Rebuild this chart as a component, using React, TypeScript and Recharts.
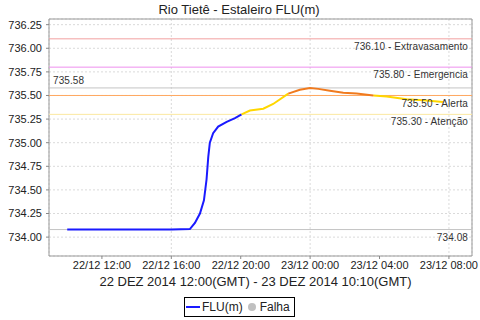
import React from 'react';
import { LineChart, Line, XAxis, YAxis, CartesianGrid, ReferenceLine, ReferenceArea } from 'recharts';

// hours counted from 22/12 00:00 (GMT)
const hours = [
  10.0, 12.0, 14.0, 16.0, 17.07, 17.36, 17.65, 17.88, 18.03, 18.13, 18.22, 18.41, 18.7, 19.19, 19.67, 20.05,
  20.53, 21.3, 21.87, 22.74, 23.41, 23.99, 24.47, 25.14, 25.91, 26.68, 27.64, 28.41, 29.56, 30.52, 31.67,
];
const levels = [
  734.08, 734.08, 734.08, 734.08, 734.085, 734.15, 734.25, 734.39, 734.61, 734.85, 735.0, 735.1, 735.17, 735.22, 735.26, 735.3,
  735.34, 735.36, 735.41, 735.52, 735.56, 735.58, 735.57, 735.55, 735.53, 735.52, 735.5, 735.49, 735.46, 735.45, 735.43,
];

const xTicks = [12, 16, 20, 24, 28, 32];
const xTickLabels = ['22/12 12:00', '22/12 16:00', '22/12 20:00', '23/12 00:00', '23/12 04:00', '23/12 08:00'];
const yTicks = [734.0, 734.25, 734.5, 734.75, 735.0, 735.25, 735.5, 735.75, 736.0, 736.25];

const refValues = [736.1, 735.8, 735.58, 735.5, 735.3, 734.08];
const refLabels = ['736.10 - Extravasamento', '735.80 - Emergencia', '735.58', '735.50 - Alerta', '735.30 - Atenção', '734.08'];
const refColors = ['#f2a0a0', '#ee90ee', '#c4c4c4', '#ffa860', '#fbe8a0', '#c4c4c4'];

const ATENCAO = 735.3;
const ALERTA = 735.5;

const xMin = 8.95;
const xMax = 33.33;
const yMin = 733.8;
const yMax = 736.31;

const segKey = (a: number, b: number) => {
  const m = (a + b) / 2;
  if (m < ATENCAO) return 'normal';
  if (m < ALERTA) return 'atencao';
  return 'alerta';
};

const rows: any[] = hours.map((t) => ({ t }));
for (let i = 0; i < hours.length - 1; i++) {
  const k = segKey(levels[i], levels[i + 1]);
  rows[i][k] = levels[i];
  rows[i + 1][k] = levels[i + 1];
}

const font = '"Liberation Sans", Arial, sans-serif';

export default function App() {
  return (
    <div style={{ position: 'absolute', left: 0, top: 0, width: 480, height: 320, background: '#fff', fontFamily: font }}>
      <div style={{ position: 'absolute', left: 0, top: 2, width: 478, textAlign: 'center', fontSize: 13, color: '#222' }}>
        Rio Tietê - Estaleiro FLU(m)
      </div>
      <LineChart width={480} height={320} data={rows} margin={{ top: 19, right: 8, left: 0, bottom: 44 }}>
        <CartesianGrid stroke="#dadada" strokeDasharray="2 2" />
        <XAxis
          dataKey="t"
          type="number"
          domain={[xMin, xMax]}
          ticks={xTicks}
          allowDataOverflow
          height={20}
          axisLine={false}
          tickLine={{ stroke: '#888' }}
          tickSize={3}
          tickMargin={2}
          tick={{ fontSize: 11, fill: '#222', fontFamily: font }}
          tickFormatter={(v: number) => xTickLabels[xTicks.indexOf(v)] ?? ''}
        />
        <YAxis
          type="number"
          domain={[yMin, yMax]}
          ticks={yTicks}
          allowDataOverflow
          width={49}
          axisLine={false}
          tickLine={{ stroke: '#888' }}
          tickSize={3}
          tickMargin={4}
          tick={{ fontSize: 11, fill: '#222', fontFamily: font }}
          tickFormatter={(v: number) => v.toFixed(2)}
        />
        {refValues.map((v, i) => (
          <ReferenceLine
            key={refLabels[i]}
            y={v}
            stroke={refColors[i]}
            strokeWidth={1}
            label={{
              value: refLabels[i],
              position: i === 2 ? 'insideBottomLeft' : 'insideTopRight',
              offset: 4,
              fill: '#333',
              fontSize: 10,
              fontFamily: font,
              letterSpacing: 0.1,
            }}
          />
        ))}
        <Line dataKey="normal" stroke="#1a1aff" strokeWidth={2} dot={false} isAnimationActive={false} />
        <Line dataKey="atencao" stroke="#ffd700" strokeWidth={2} dot={false} isAnimationActive={false} />
        <Line dataKey="alerta" stroke="#f07a1e" strokeWidth={2} dot={false} isAnimationActive={false} />
        <ReferenceArea x1={xMin} x2={xMax} y1={yMin} y2={yMax} fill="none" stroke="#999" strokeWidth={1} />
      </LineChart>
      <div
        style={{
          position: 'absolute',
          left: 99,
          top: 274,
          width: 313,
          textAlign: 'center',
          fontSize: 13,
          color: '#222',
          whiteSpace: 'nowrap',
        }}
      >
        22 DEZ 2014 12:00(GMT) - 23 DEZ 2014 10:10(GMT)
      </div>
      <div
        style={{
          position: 'absolute',
          left: 184,
          top: 297,
          width: 111,
          height: 20,
          boxSizing: 'border-box',
          border: '1px solid #000',
          display: 'flex',
          alignItems: 'center',
          fontSize: 12,
          color: '#222',
          whiteSpace: 'nowrap',
        }}
      >
        <svg width={14} height={10} style={{ marginLeft: 1, marginRight: 2 }}>
          <line x1={0} y1={5} x2={14} y2={5} stroke="#1a1aff" strokeWidth={2} />
        </svg>
        <span>FLU(m)</span>
        <svg width={10} height={10} style={{ marginLeft: 4, marginRight: 3 }}>
          <circle cx={5} cy={5} r={4} fill="#c0c0c0" />
        </svg>
        <span>Falha</span>
      </div>
    </div>
  );
}
